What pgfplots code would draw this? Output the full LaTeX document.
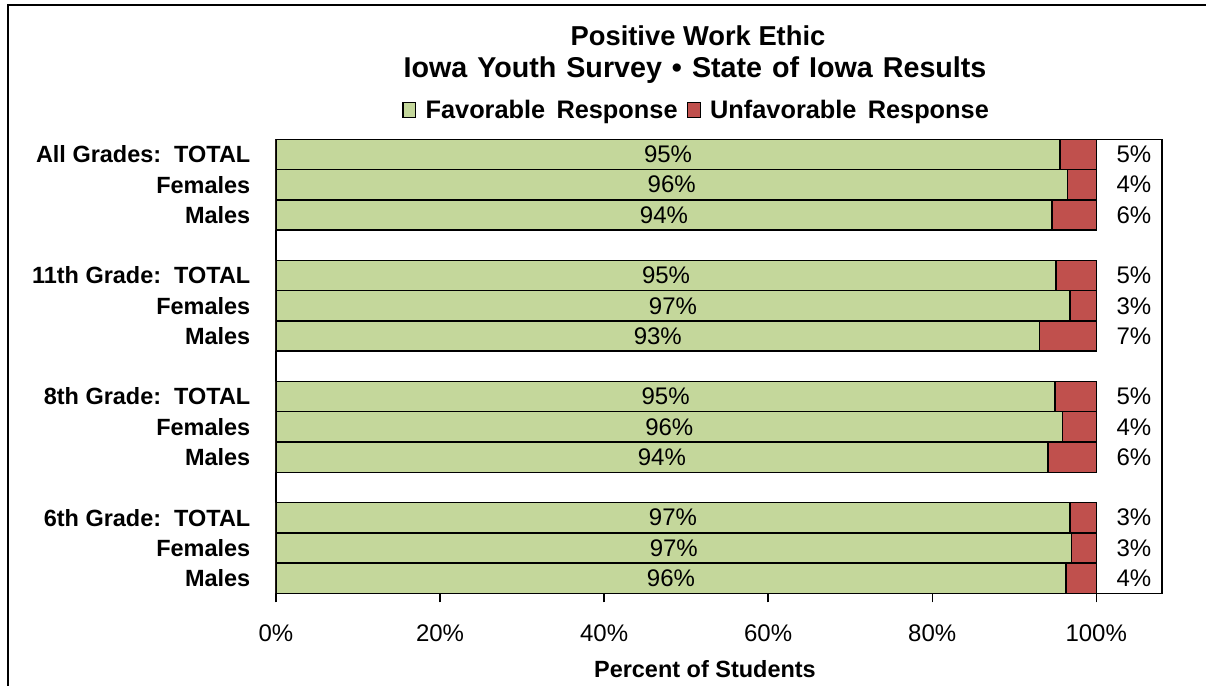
\documentclass[border=0pt]{standalone}
\usepackage{fontspec}
\setmainfont{Liberation Sans}
\usepackage{pgfplots}
\pgfplotsset{compat=1.18}
\usepackage{pgfplotstable}
\definecolor{favgreen}{HTML}{C4D79B}
\definecolor{unfred}{HTML}{C0504D}
\newcommand\fs{\fontsize{18}{21}\selectfont}
\newcommand\fb{\fontsize{17.6}{21}\selectfont\bfseries}
\newcommand\fl{\fontsize{19}{21}\selectfont\bfseries}

\pgfplotstableread{
y fav tot flab ulab rx
14.5 95.6 100 95 5 104.6
13.5 96.5 100 96 4 104.6
12.5 94.6 100 94 6 104.6
10.5 95.1 100 95 5 104.6
9.5 96.8 100 97 3 104.6
8.5 93.1 100 93 7 104.6
6.5 95.0 100 95 5 104.6
5.5 95.9 100 96 4 104.6
4.5 94.1 100 94 6 104.6
2.5 96.8 100 97 3 104.6
1.5 97.0 100 97 3 104.6
0.5 96.3 100 96 4 104.6
}\data

\begin{document}
\begin{tikzpicture}[x=1pt,y=1pt]
\useasboundingbox (-207,-68.8) rectangle (697.5,445);
\draw[line width=1.5pt] (-201,-75) -- (-201,441.2) -- (705,441.2);
\begin{axis}[
  at={(0pt,0pt)}, anchor=south west,
  scale only axis, width=664.7pt, height=340.5pt,
  xmin=0, xmax=108.05, ymin=0, ymax=15,
  axis line style={line width=1.2pt, black},
  /pgf/number format/assume math mode=true,
  tick align=outside, major tick length=6.75pt,
  xtick={0,20,40,60,80,100},
  xticklabels={0\%,20\%,40\%,60\%,80\%,100\%},
  xtick pos=left,
  xtick style={black, line width=1pt},
  ytick={14.5,13.5,12.5,10.5,9.5,8.5,6.5,5.5,4.5,2.5,1.5,0.5},
  yticklabels={All Grades:\ \ TOTAL, Females, Males, 11th Grade:\ \ TOTAL, Females, Males, 8th Grade:\ \ TOTAL, Females, Males, 6th Grade:\ \ TOTAL, Females, Males},
  ytick pos=left,
  ytick style={draw=none},
  xticklabel style={font=\fs, yshift=-13.5pt},
  yticklabel style={font=\fb, xshift=-9pt},
  xlabel={Percent of Students},
  xlabel style={font=\fb, at={(axis description cs:0.484,0)}, anchor=base, yshift=-62.8pt},
  legend style={at={(axis description cs:0.475,1.0645)}, anchor=center, draw=none, fill=none, font=\fl,
    legend columns=2, /tikz/every even column/.append style={column sep=5pt}},
  legend cell align=left,
]
\addlegendimage{legend image code/.code={\draw[fill=favgreen,draw=black,line width=0.9pt] (0pt,-5.5pt) rectangle (9.5pt,5.5pt);}}
\addlegendentry{\hspace{5pt}Favorable\ \,Response}
\addlegendimage{legend image code/.code={\draw[fill=unfred,draw=black,line width=0.9pt] (0pt,-5.5pt) rectangle (9.5pt,5.5pt);}}
\addlegendentry{\hspace{5pt}Unfavorable\ \,Response}
\addplot[xbar, bar width=1, bar shift=0pt, fill=unfred, draw=black, line width=1.1pt, forget plot] table[x=tot, y=y]{\data};
\addplot[xbar, bar width=1, bar shift=0pt, fill=favgreen, draw=black, line width=1.1pt, forget plot] table[x=fav, y=y]{\data};
\addplot[draw=none, mark=none, forget plot, point meta=\thisrow{flab},
  nodes near coords={\pgfmathprintnumber{\pgfplotspointmeta}\%},
  nodes near coords align=center,
  every node near coord/.append style={font=\fs, anchor=center, text=black}]
  table[x expr=\thisrow{fav}/2, y=y]{\data};
\addplot[draw=none, mark=none, forget plot, point meta=\thisrow{ulab},
  nodes near coords={\pgfmathprintnumber{\pgfplotspointmeta}\%},
  nodes near coords align=center,
  every node near coord/.append style={font=\fs, anchor=center, text=black}]
  table[x=rx, y=y]{\data};
\end{axis}
\node[font=\fontsize{20.5}{24}\selectfont\bfseries, anchor=base] at (316.5,410.5) {Positive Work Ethic};
\node[font=\fontsize{21.5}{24}\selectfont\bfseries, anchor=base] at (314.25,387.2) {\spaceskip=7.5pt Iowa Youth Survey • State of Iowa Results};
\end{tikzpicture}
\end{document}
